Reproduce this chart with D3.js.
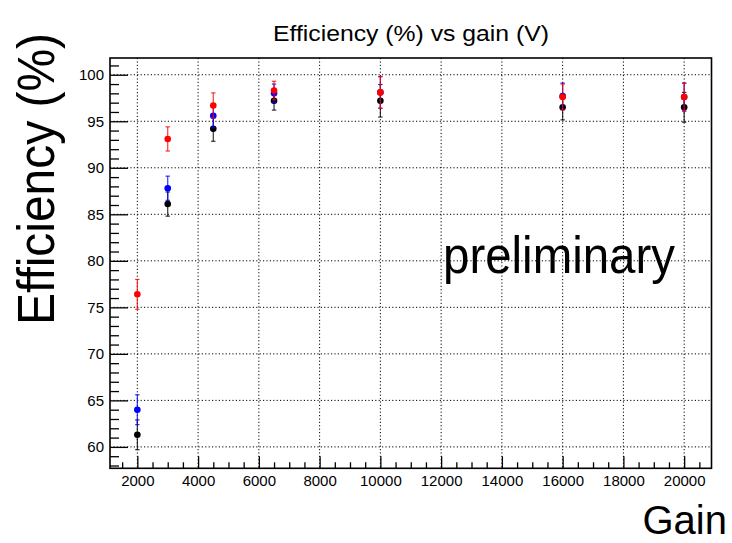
<!DOCTYPE html>
<html>
<head>
<meta charset="utf-8">
<script src="https://cdn.jsdelivr.net/npm/d3@7"></script>
<style>
  html, body { margin: 0; padding: 0; background: #fff; }
  svg { display: block; }
  text { font-family: "Liberation Sans", Arial, Helvetica, sans-serif; }
</style>
</head>
<body>
<svg id="chart" width="732" height="543"></svg>
<script>
// ---- data ----
const gains = [2000, 3000, 4500, 6500, 10000, 16000, 20000];
const redEff = [76.4, 93.1, 96.7, 98.3, 98.1, 97.6, 97.6];
const redErr = [1.6, 1.3, 1.35, 1.0, 1.7, 1.4, 1.5];
const blueEff = [64.0, 87.8, 95.6, 98.0, 98.1, 97.7, 97.6];
const blueErr = [1.6, 1.3, 1.3, 1.0, 1.7, 1.4, 1.5];
const blackEff = [61.3, 86.1, 94.2, 97.2, 97.2, 96.5, 96.5];
const blackErr = [1.6, 1.3, 1.35, 1.0, 1.75, 1.35, 1.6];
const xTicks = [2000, 4000, 6000, 8000, 10000, 12000, 14000, 16000, 18000, 20000];
const yTicks = [60, 65, 70, 75, 80, 85, 90, 95, 100];
const titleText = "Efficiency (%) vs gain (V)";
const xTitle = "Gain";
const yTitle = "Efficiency (%)";
const watermark = "preliminary";

// ---- layout ----
const frame = { left: 110, right: 711.5, top: 58, bottom: 468.3 };
const svg = d3.select("#chart");

const x = d3.scaleLinear().domain([1100, 20900]).range([frame.left, frame.right]);
const y = d3.scaleLinear().domain([57.7, 101.8]).range([frame.bottom, frame.top]);

const xMinor = d3.range(1500, 20900, 500).filter(v => !xTicks.includes(v));
const yMinor = d3.range(58, 101.8, 1).filter(v => !yTicks.includes(v));

// grid
const grid = svg.append("g").attr("stroke", "#000").attr("stroke-width", 1)
  .attr("stroke-dasharray", "1.2,2.2").attr("fill", "none");
grid.selectAll("line.gx").data(xTicks).join("line")
  .attr("x1", d => x(d)).attr("x2", d => x(d))
  .attr("y1", frame.top).attr("y2", frame.bottom);
grid.selectAll("line.gy").data(yTicks).join("line")
  .attr("y1", d => y(d)).attr("y2", d => y(d))
  .attr("x1", frame.left).attr("x2", frame.right);

// axes
function styleAxis(g) {
  g.select(".domain").remove();
  g.selectAll(".tick line").attr("stroke", "#000").attr("stroke-width", 1.3);
  g.selectAll(".tick text").attr("fill", "#000").style("font-size", "15px")
    .style("font-family", '"Liberation Sans", Arial, Helvetica, sans-serif');
}
svg.append("g").attr("transform", `translate(${frame.left},0)`)
  .call(d3.axisLeft(y).tickValues(yTicks).tickSize(-18).tickPadding(6).tickFormat(d3.format("d")))
  .call(styleAxis);
svg.append("g").attr("transform", `translate(${frame.left},0)`)
  .call(d3.axisLeft(y).tickValues(yMinor).tickSize(-9).tickFormat(""))
  .call(styleAxis);
svg.append("g").attr("transform", `translate(0,${frame.bottom})`)
  .call(d3.axisBottom(x).tickValues(xTicks).tickSize(-12).tickPadding(7).tickFormat(d3.format("d")))
  .call(styleAxis);
svg.append("g").attr("transform", `translate(0,${frame.bottom})`)
  .call(d3.axisBottom(x).tickValues(xMinor).tickSize(-6).tickFormat(""))
  .call(styleAxis);

// frame
svg.append("rect")
  .attr("x", frame.left).attr("y", frame.top)
  .attr("width", frame.right - frame.left).attr("height", frame.bottom - frame.top)
  .attr("fill", "none").attr("stroke", "#000").attr("stroke-width", 1.6);

// series
const series = [
  { vals: blackEff, errs: blackErr, color: "#000000" },
  { vals: blueEff, errs: blueErr, color: "#0000ff" },
  { vals: redEff, errs: redErr, color: "#ff0000" }
];
series.forEach(s => {
  const g = svg.append("g");
  const pts = gains.map((gv, i) => ({ g: gv, v: s.vals[i], e: s.errs[i] }));
  g.selectAll("line.err").data(pts).join("line")
    .attr("x1", d => x(d.g)).attr("x2", d => x(d.g))
    .attr("y1", d => y(d.v - d.e)).attr("y2", d => y(d.v + d.e))
    .attr("stroke", s.color).attr("stroke-width", 1.2).attr("stroke-opacity", 0.8);
  g.selectAll("line.capt").data(pts).join("line")
    .attr("x1", d => x(d.g) - 2.2).attr("x2", d => x(d.g) + 2.2)
    .attr("y1", d => y(d.v + d.e)).attr("y2", d => y(d.v + d.e))
    .attr("stroke", s.color).attr("stroke-width", 1.2).attr("stroke-opacity", 0.8);
  g.selectAll("line.capb").data(pts).join("line")
    .attr("x1", d => x(d.g) - 2.2).attr("x2", d => x(d.g) + 2.2)
    .attr("y1", d => y(d.v - d.e)).attr("y2", d => y(d.v - d.e))
    .attr("stroke", s.color).attr("stroke-width", 1.2).attr("stroke-opacity", 0.8);
  g.selectAll("circle").data(pts).join("circle")
    .attr("cx", d => x(d.g)).attr("cy", d => y(d.v)).attr("r", 3.3)
    .attr("fill", s.color);
});

// texts
svg.append("text").attr("x", 411).attr("y", 41).attr("text-anchor", "middle")
  .style("font-size", "22px").attr("textLength", 276).attr("lengthAdjust", "spacingAndGlyphs")
  .text(titleText);
svg.append("text").attr("transform", "translate(54,325) rotate(-90)")
  .attr("text-anchor", "start").style("font-size", "52px")
  .attr("textLength", 292).attr("lengthAdjust", "spacingAndGlyphs")
  .text(yTitle);
svg.append("text").attr("x", 727).attr("y", 534).attr("text-anchor", "end")
  .style("font-size", "40px").text(xTitle);
svg.append("text").attr("x", 443).attr("y", 273).attr("text-anchor", "start")
  .style("font-size", "52px").attr("textLength", 232).attr("lengthAdjust", "spacingAndGlyphs")
  .text(watermark);
</script>
</body>
</html>
